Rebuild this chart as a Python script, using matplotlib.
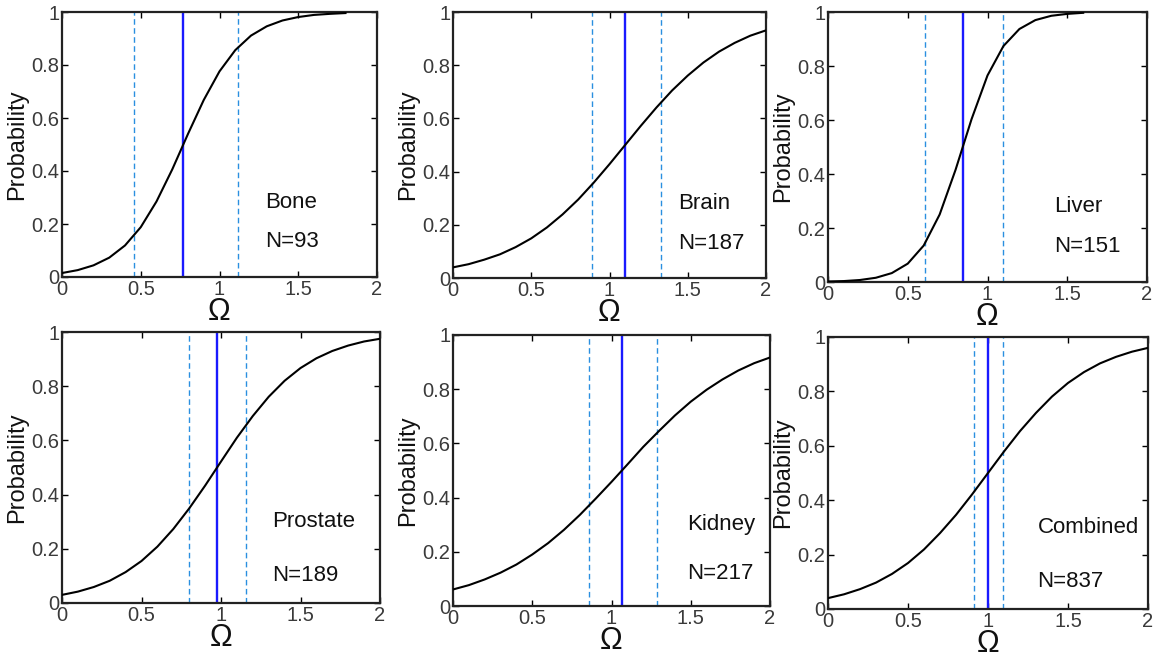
import matplotlib
matplotlib.use("Agg")
import matplotlib.pyplot as plt

plt.rcParams['font.family'] = ['Liberation Sans', 'DejaVu Sans']

# omega grid read at 0.1 steps
omega = [0.0, 0.1, 0.2, 0.3, 0.4, 0.5, 0.6, 0.7, 0.8, 0.9, 1.0,
         1.1, 1.2, 1.3, 1.4, 1.5, 1.6, 1.7, 1.8, 1.9, 2.0]

bone_p = [0.015, 0.026, 0.044, 0.073, 0.119, 0.188, 0.285, 0.406, 0.540, 0.668,
          0.776, 0.856, 0.911, 0.946, 0.968, 0.981, 0.989, 0.993, 0.996]
brain_p = [0.040, 0.052, 0.069, 0.089, 0.116, 0.149, 0.190, 0.239, 0.295, 0.359,
           0.428, 0.500, 0.572, 0.641, 0.705, 0.761, 0.810, 0.851, 0.884, 0.911, 0.931]
liver_p = [0.002, 0.0035, 0.0074, 0.0157, 0.033, 0.068, 0.135, 0.250, 0.416, 0.603,
           0.765, 0.874, 0.937, 0.970, 0.986, 0.993, 0.997]
prostate_p = [0.030, 0.042, 0.059, 0.082, 0.114, 0.155, 0.208, 0.273, 0.349, 0.433,
              0.522, 0.610, 0.690, 0.761, 0.820, 0.867, 0.903, 0.930, 0.950, 0.965, 0.975]
kidney_p = [0.061, 0.077, 0.098, 0.123, 0.153, 0.190, 0.232, 0.281, 0.336, 0.396,
            0.458, 0.522, 0.587, 0.646, 0.703, 0.754, 0.798, 0.836, 0.869, 0.896, 0.917]
combined_p = [0.040, 0.054, 0.073, 0.097, 0.129, 0.169, 0.219, 0.279, 0.346, 0.421,
              0.500, 0.579, 0.654, 0.721, 0.781, 0.831, 0.871, 0.903, 0.927, 0.946, 0.960]

names = ["Bone", "Brain", "Liver", "Prostate", "Kidney", "Combined"]
counts = [93, 187, 151, 189, 217, 837]
curves = [bone_p, brain_p, liver_p, prostate_p, kidney_p, combined_p]
centers = [0.77, 1.10, 0.845, 0.975, 1.065, 1.00]
lower = [0.46, 0.89, 0.61, 0.80, 0.86, 0.91]
upper = [1.12, 1.33, 1.10, 1.16, 1.29, 1.095]

# text anchor (x) and y of name / N label per panel
text_x = [1.29, 1.44, 1.42, 1.32, 1.48, 1.31]
name_y = [0.28, 0.28, 0.28, 0.30, 0.30, 0.30]
n_y = [0.135, 0.13, 0.13, 0.10, 0.12, 0.10]

# axes rectangles in pixels: left, top, right, bottom
W, H = 1156, 659
boxes = [(62, 12, 377, 277), (453, 12, 766, 278), (828, 12, 1147, 282),
         (62, 332, 380, 603), (453, 335, 770, 606), (828, 337, 1148, 609)]

fig = plt.figure(figsize=(W / 100, H / 100), dpi=100)

for i in range(6):
    l, t, r, b = boxes[i]
    ax = fig.add_axes([l / W, 1 - b / H, (r - l) / W, (b - t) / H])
    ys = curves[i]
    ax.plot(omega[:len(ys)], ys, color='black', lw=1.5, zorder=3)
    ax.axvline(centers[i], color='#1a1aff', lw=1.7, zorder=2)
    for xv in (lower[i], upper[i]):
        ax.axvline(xv, color='#2a8fe0', lw=1.0, ls=(0, (4, 2.5)), zorder=2)

    ax.set_xlim(0, 2)
    ax.set_ylim(0, 1)
    ax.set_xticks([0, 0.5, 1, 1.5, 2])
    ax.set_xticklabels(["0", "0.5", "1", "1.5", "2"])
    ax.set_yticks([0, 0.2, 0.4, 0.6, 0.8, 1])
    ax.set_yticklabels(["0", "0.2", "0.4", "0.6", "0.8", "1"])
    ax.tick_params(direction='in', top=True, right=True, length=4, width=1,
                   labelsize=14.5, labelcolor='#3a3a3a', pad=2)
    for s in ax.spines.values():
        s.set_linewidth(1.6)
        s.set_color('#222222')

    ax.set_ylabel("Probability", fontsize=17, color='#111111', labelpad=2)
    ax.set_xlabel("Ω", fontsize=22, color='#111111', labelpad=-1.5)

    ax.text(text_x[i], name_y[i], names[i], fontsize=16, color='#111111',
            ha='left', va='center')
    ax.text(text_x[i], n_y[i], f"N={counts[i]}", fontsize=16, color='#111111',
            ha='left', va='center')

fig.savefig("out.png", dpi=100)
